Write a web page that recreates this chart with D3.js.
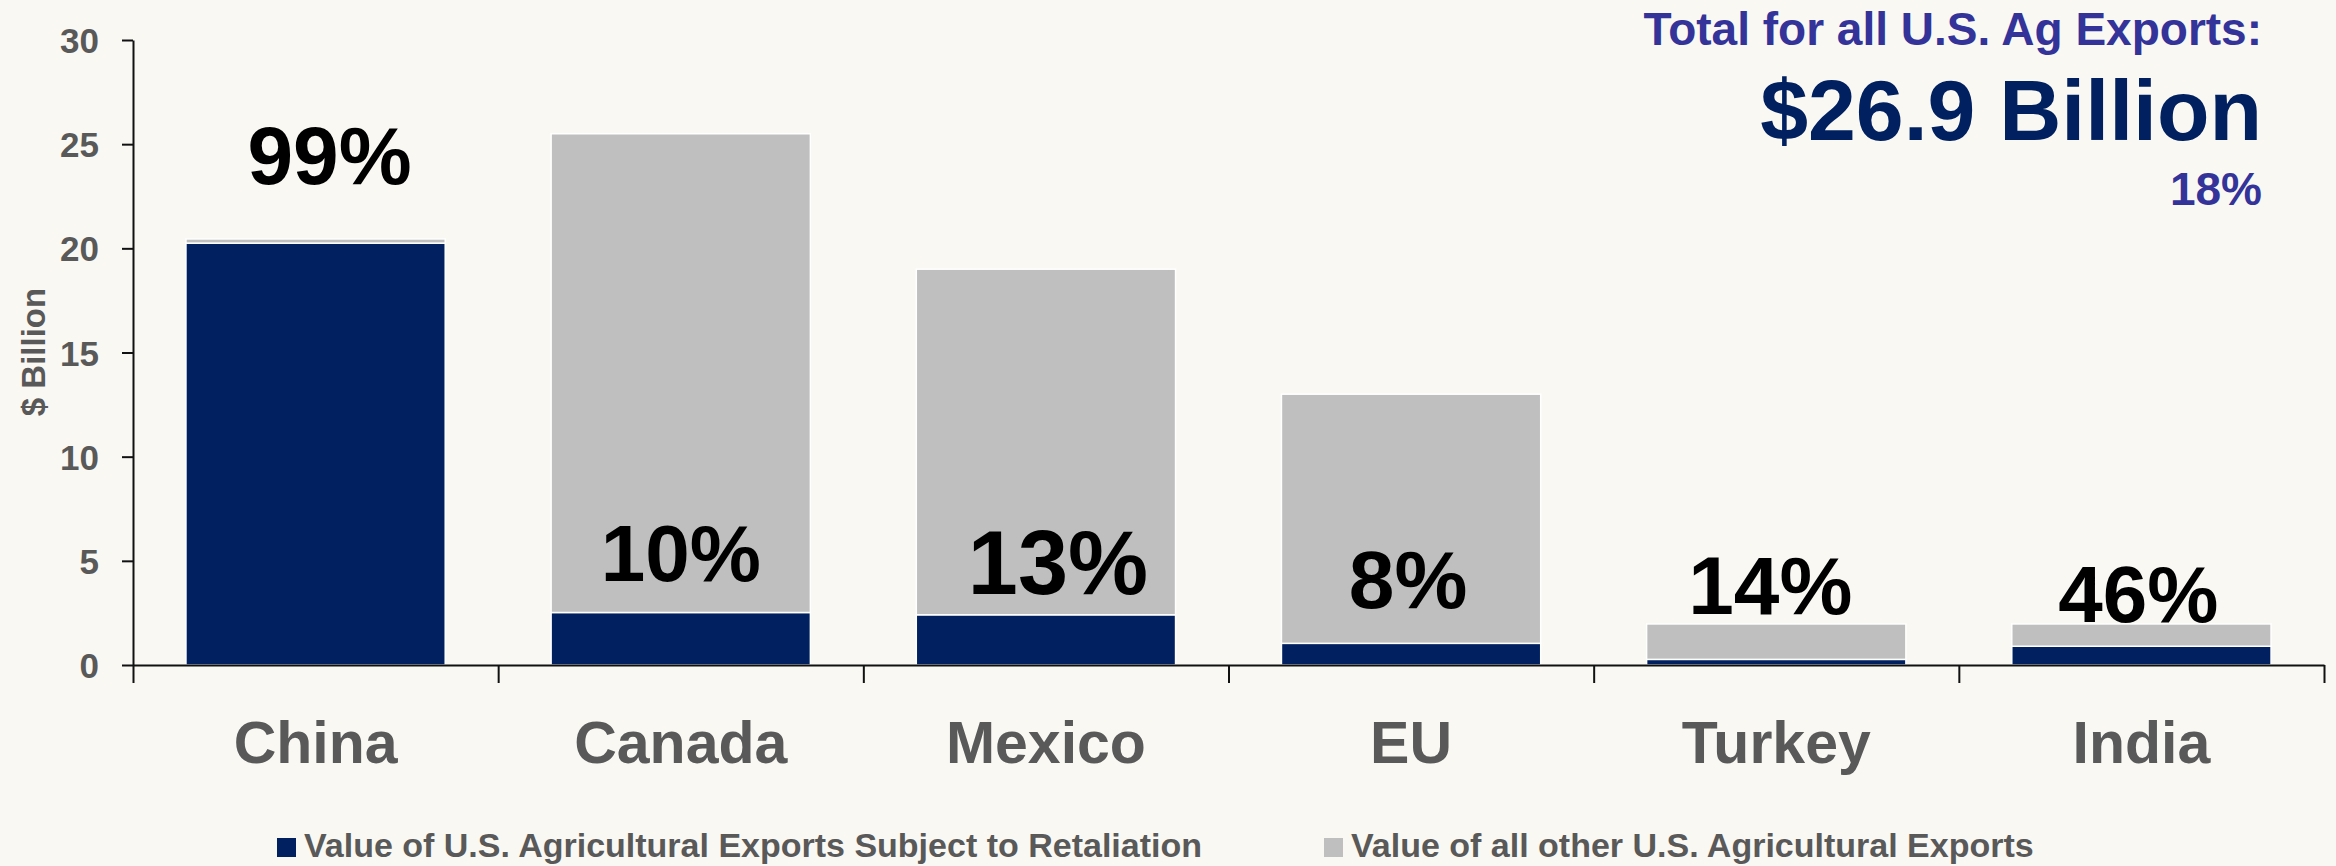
<!DOCTYPE html>
<html>
<head>
<meta charset="utf-8">
<script src="https://cdn.jsdelivr.net/npm/d3@7"></script>
<style>
body{margin:0;background:#f9f8f3;}
svg{display:block;font-family:"Liberation Sans",Arial,sans-serif;}
</style>
</head>
<body>
<div id="chart"></div>
<script>
const width = 2336
const height = 866

const margin = {
    top:40,
    bottom:201,
    left:133,
    right:12
}

const countries = ["China","Canada","Mexico","EU","Turkey","India"]
const retaliated = [20.25, 2.52, 2.41, 1.04, 0.27, 0.90]
const otherExports = [0.20, 22.98, 16.59, 11.96, 1.70, 1.07]
const pctLabels = ["99%","10%","13%","8%","14%","46%"]
const yTicks = [0,5,10,15,20,25,30]
const seriesNames = ["Value of U.S. Agricultural Exports Subject to Retaliation","Value of all other U.S. Agricultural Exports"]
const totalTitle = "Total for all U.S. Ag Exports:"
const totalValue = "$26.9 Billion"
const totalPct = "18%"

// layout of the hand-placed percentage boxes (baseline in $ billion, font size, nudge in px)
const pctLabelAt = [23.1, 4.05, 3.4, 2.75, 2.45, 2.05]
const pctLabelSize = [82, 80, 90, 82, 82, 80]
const pctLabelShift = [14, 0, 12, -3, -6, -3]

const colors = ["#002060","#bfbfbf"]
const grey = "#595959"

const innerW = width - margin.left - margin.right
const innerH = height - margin.top - margin.bottom

const svg = d3.select("div#chart").append("svg").attr("width",width).attr("height",height)
svg.append("rect").attr("width",width).attr("height",height).attr("fill","#f9f8f3")

const elementGroup = svg.append("g").attr("transform",`translate(${margin.left},${margin.top})`)

const x = d3.scaleBand().domain(countries).range([0,innerW]).paddingInner(0.29).paddingOuter(0.145)
const xEdge = d3.scaleLinear().domain([0,countries.length]).range([0,innerW])
const y = d3.scaleLinear().domain([0,30]).range([innerH,0])

const table = countries.map((c,i) => ({country:c, retaliated:retaliated[i], other:otherExports[i]}))
const stacked = d3.stack().keys(["retaliated","other"])(table)

// bars
elementGroup.selectAll("g.series").data(stacked).enter()
    .append("g").attr("class","series").attr("fill",(d,i) => colors[i])
    .selectAll("rect").data(d => d).enter()
    .append("rect")
    .attr("x", d => x(d.data.country))
    .attr("y", d => y(d[1]))
    .attr("width", x.bandwidth())
    .attr("height", d => y(d[0]) - y(d[1]))
    .attr("stroke","#ffffff")
    .attr("stroke-width",1.5)

// axes
const yAxisGroup = elementGroup.append("g")
    .call(d3.axisLeft(y).tickValues(yTicks).tickSize(11).tickSizeOuter(0).tickPadding(23))
yAxisGroup.select(".domain").attr("stroke","#111").attr("stroke-width",2)
yAxisGroup.selectAll(".tick line").attr("stroke","#111").attr("stroke-width",2)
yAxisGroup.selectAll(".tick text").attr("fill",grey).attr("font-size",35).attr("font-weight","bold")
    .attr("font-family","'Liberation Sans',Arial,sans-serif").attr("dy","0.36em")

const xAxisGroup = elementGroup.append("g").attr("transform",`translate(0,${innerH})`)
    .call(d3.axisBottom(xEdge).tickValues(d3.range(countries.length + 1)).tickSize(18).tickSizeOuter(0).tickFormat(""))
xAxisGroup.select(".domain").attr("stroke","#111").attr("stroke-width",2)
xAxisGroup.selectAll(".tick line").attr("stroke","#111").attr("stroke-width",2)

// category labels
elementGroup.selectAll("text.cat").data(countries).enter()
    .append("text").attr("class","cat")
    .attr("x", d => x(d) + x.bandwidth()/2)
    .attr("y", innerH + 98)
    .attr("text-anchor","middle")
    .attr("font-size",59).attr("font-weight","bold").attr("fill",grey)
    .text(d => d)

// percentage labels
elementGroup.selectAll("text.pct").data(pctLabels).enter()
    .append("text").attr("class","pct")
    .attr("x", (d,i) => x(countries[i]) + x.bandwidth()/2 + pctLabelShift[i])
    .attr("y", (d,i) => y(pctLabelAt[i]))
    .attr("text-anchor","middle")
    .attr("font-size",(d,i) => pctLabelSize[i]).attr("font-weight","bold").attr("fill","#000")
    .text(d => d)

// y title
svg.append("text")
    .attr("transform","translate(45,352) rotate(-90)")
    .attr("text-anchor","middle")
    .attr("font-size",33).attr("font-weight","bold").attr("fill",grey)
    .text("$ Billion")

// totals box top right
const totals = svg.append("g").attr("text-anchor","end").attr("font-weight","bold")
totals.append("text").attr("x",2262).attr("y",45).attr("font-size",46).attr("fill","#333399").text(totalTitle)
totals.append("text").attr("x",2262).attr("y",140).attr("font-size",86).attr("fill","#002060").text(totalValue)
totals.append("text").attr("x",2262).attr("y",205).attr("font-size",46).attr("fill","#333399").text(totalPct)

// legend
const legendX = [277,1324]
const legend = svg.selectAll("g.legend").data(seriesNames).enter()
    .append("g").attr("class","legend")
    .attr("transform",(d,i) => `translate(${legendX[i]},838)`)
legend.append("rect").attr("width",19).attr("height",19).attr("fill",(d,i) => colors[i])
legend.append("text").attr("x",27).attr("y",19)
    .attr("font-size",34).attr("font-weight","bold").attr("fill",grey)
    .text(d => d)
</script>
</body>
</html>
